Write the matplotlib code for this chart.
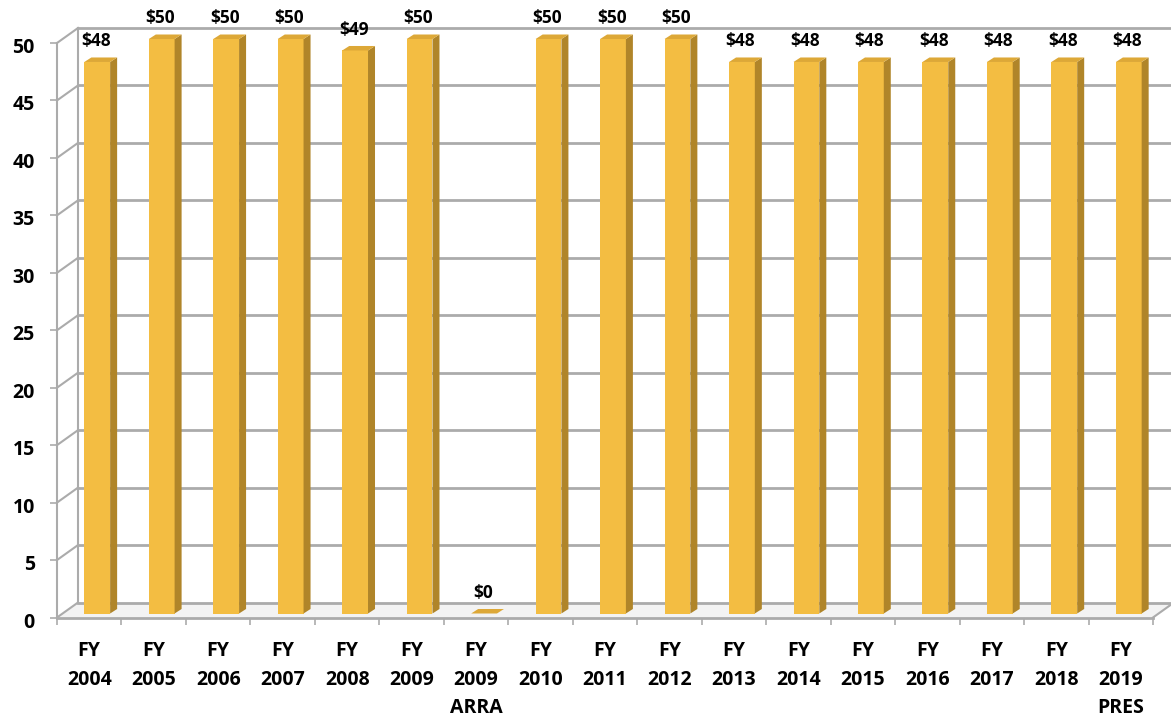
import matplotlib
matplotlib.use("Agg")
import matplotlib.pyplot as plt
from matplotlib.patches import Polygon
from matplotlib.transforms import ScaledTranslation

plt.rcParams['font.family'] = ['Open Sans', 'DejaVu Sans']

categories = ['FY\n2004', 'FY\n2005', 'FY\n2006', 'FY\n2007', 'FY\n2008', 'FY\n2009',
              'FY\n2009\nARRA', 'FY\n2010', 'FY\n2011', 'FY\n2012', 'FY\n2013', 'FY\n2014',
              'FY\n2015', 'FY\n2016', 'FY\n2017', 'FY\n2018', 'FY\n2019\nPRES']
values = [48, 50, 50, 50, 49, 50, 0, 50, 50, 50, 48, 48, 48, 48, 48, 48, 48]
yticks = list(range(0, 51, 5))

W, H = 1171, 719
fig = plt.figure(figsize=(W / 100, H / 100), dpi=100)
ax = fig.add_axes([57 / W, (H - 617.5) / H, 1096 / W, 574.5 / H])
xmin, xmax = -0.5, len(values) - 0.5
ymin, ymax = 0, 50
ax.set_xlim(xmin, xmax)
ax.set_ylim(ymin, ymax)
for s in ax.spines.values():
    s.set_visible(False)

# pixel -> data unit helpers
px_x = 1096 / (xmax - xmin)
px_y = 574.5 / (ymax - ymin)
def dx(p):
    return p / px_x
def dy(p):
    return p / px_y

grid_c = '#ababab'
wall_dx, wall_dy = dx(21), dy(15)

# floor
ax.add_patch(Polygon([(xmin, 0), (xmax, 0), (xmax + wall_dx, wall_dy), (xmin + wall_dx, wall_dy)],
                     closed=True, facecolor='#f3f3f3', edgecolor='none', zorder=0, clip_on=False))

# back wall gridlines and left wall diagonals
for t in yticks:
    ax.plot([xmin + wall_dx, xmax + wall_dx + 1], [t + wall_dy, t + wall_dy],
            color=grid_c, lw=2, clip_on=False, zorder=1)
    ax.plot([xmin, xmin + wall_dx], [t, t + wall_dy], color=grid_c, lw=1.5,
            clip_on=False, zorder=1)
ax.plot([xmin + wall_dx] * 2, [ymin + wall_dy, ymax + wall_dy], color=grid_c, lw=1.5,
        clip_on=False, zorder=1)
ax.plot([xmin, xmin], [ymin, ymax], color=grid_c, lw=1.5, clip_on=False, zorder=1)
# floor front edge and right diagonal
ax.plot([xmin, xmax], [0, 0], color=grid_c, lw=2, clip_on=False, zorder=1)
ax.plot([xmax, xmax + wall_dx], [0, wall_dy], color=grid_c, lw=1.5, clip_on=False, zorder=1)

# 3d-looking columns
front_c, side_c, top_c = '#F3BD42', '#B08529', '#DDA837'
bw = 0.4
bx, by = dx(8), dy(4)      # column offset from front plane
ddx, ddy = dx(7), dy(4.5)  # column depth
for i, v in enumerate(values):
    l, r = i - bw / 2 + bx, i + bw / 2 + bx
    b, t = by, v + by
    ax.add_patch(Polygon([(l, b), (r, b), (r, t), (l, t)], closed=True,
                         facecolor=front_c, edgecolor='none', zorder=3, clip_on=False))
    ax.add_patch(Polygon([(r, b), (r + ddx, b + ddy), (r + ddx, t + ddy), (r, t)], closed=True,
                         facecolor=side_c, edgecolor='none', zorder=3, clip_on=False))
    ax.add_patch(Polygon([(l, t), (r, t), (r + ddx, t + ddy), (l + ddx, t + ddy)], closed=True,
                         facecolor=top_c, edgecolor='none', zorder=3, clip_on=False))
    ax.annotate(f'${v}', (i + bx, t), xytext=(-1, 15), textcoords='offset points',
                ha='center', va='center', fontsize=12.5, fontweight='bold',
                color='black', annotation_clip=False, zorder=4)

ax.set_yticks(yticks)
ax.set_yticklabels([str(t) for t in yticks], fontsize=14, fontweight='bold')
ax.tick_params(axis='y', length=5, width=1.2, color=grid_c, pad=11)
shift = ScaledTranslation(0, -2.5 / 100, fig.dpi_scale_trans)
for lab in ax.get_yticklabels():
    lab.set_transform(lab.get_transform() + shift)
ax.set_xticks(range(len(values)))
ax.set_xticklabels(categories, fontsize=14, fontweight='bold', linespacing=1.575, va='top')
ax.set_xticks([i - 0.5 for i in range(len(values) + 1)], minor=True)
ax.tick_params(axis='x', which='major', length=0, pad=17)
ax.tick_params(axis='x', which='minor', length=5, width=1.2, color=grid_c)

fig.savefig('out.png', dpi=100)
